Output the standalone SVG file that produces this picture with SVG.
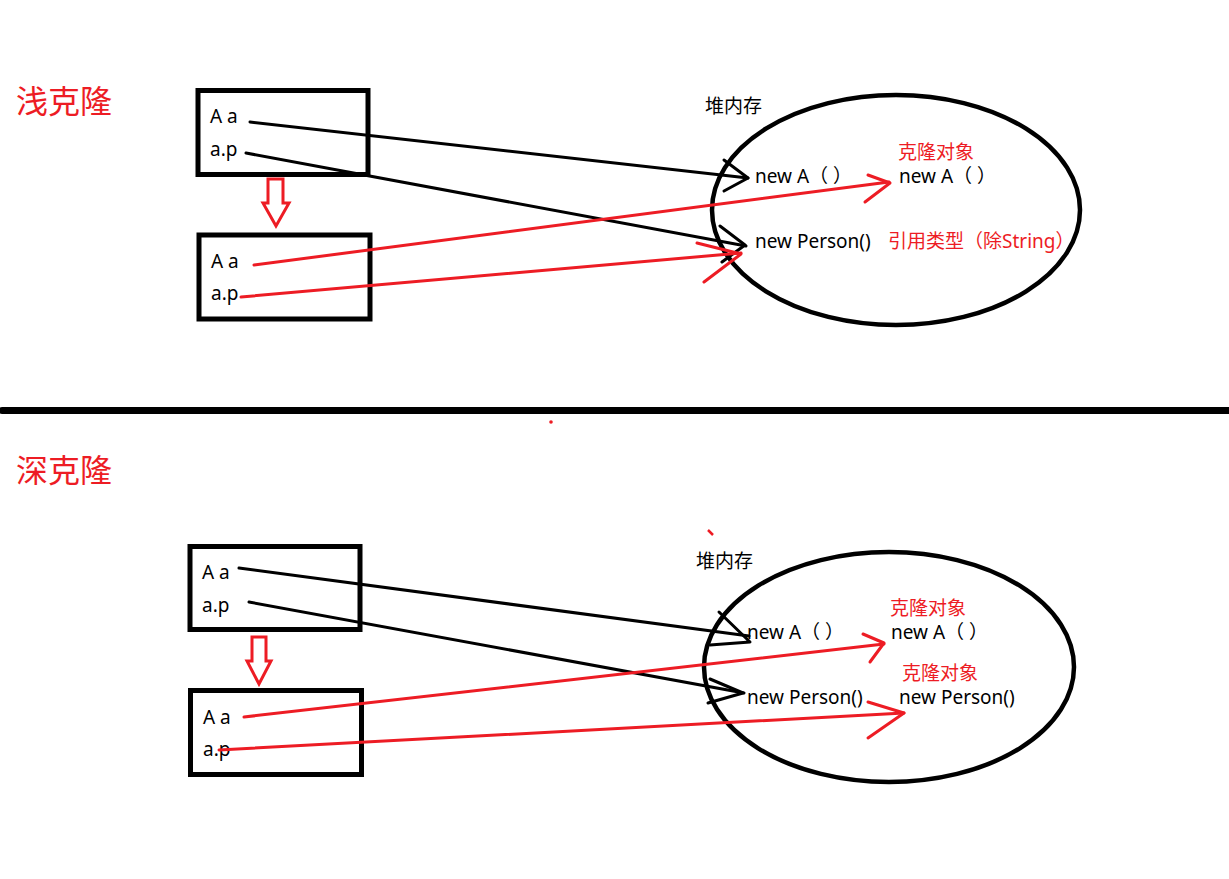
<svg xmlns="http://www.w3.org/2000/svg" width="1229" height="879" viewBox="0 0 1229 879">
<style>
.box{fill:none;stroke:#000;stroke-width:5}
.heap{fill:none;stroke:#000;stroke-width:4.5}
.t{font-family:"Noto Sans","Noto Sans CJK SC",sans-serif;font-size:19px;fill:#000}
.r{fill:#ED1C24}
.title{font-family:"Noto Sans CJK SC",sans-serif;font-size:32px;fill:#ED1C24}
.bl{fill:none;stroke:#000;stroke-width:3;stroke-linecap:round;stroke-linejoin:round}
.rl{fill:none;stroke:#ED1C24;stroke-width:3;stroke-linecap:round;stroke-linejoin:round}
.da{fill:#fff;stroke:#ED1C24;stroke-width:3;stroke-linejoin:miter}
</style>
<rect width="1229" height="879" fill="#fff"/>

<text class="title" x="16" y="113">浅克隆</text>
<text class="title" x="16" y="482">深克隆</text>

<line x1="2" y1="410.5" x2="1229" y2="410.5" stroke="#000" stroke-width="7" stroke-linecap="round"/>
<circle cx="551" cy="422" r="1.8" fill="#ED1C24"/>
<line x1="708" y1="530" x2="713" y2="535" stroke="#ED1C24" stroke-width="2.5"/>

<!-- top section -->
<g id="top-box1">
<rect class="box" x="198" y="90.5" width="170" height="84"/>
<text class="t" x="210" y="123">A a</text>
<text class="t" x="210" y="156">a.p</text>
</g>
<g id="top-copy-arrow">
<path class="da" d="M268,179 H283 V203 H289 L276,226 L263,203 H268 Z"/>
</g>
<g id="top-box2">
<rect class="box" x="199" y="235" width="171" height="84"/>
<text class="t" x="211" y="268">A a</text>
<text class="t" x="211" y="300">a.p</text>
</g>
<g id="top-heap">
<ellipse class="heap" cx="896" cy="210" rx="184" ry="115"/>
<text class="t" x="705" y="113">堆内存</text>
<text class="t" x="755" y="183">new A（ ）</text>
<text class="t r" x="898" y="159">克隆对象</text>
<text class="t" x="899" y="183">new A（ ）</text>
<text class="t" x="755" y="248">new Person()</text>
<text class="t r" x="888" y="248">引用类型（除String）</text>
</g>

<!-- bottom section -->
<g id="bottom-box1">
<rect class="box" x="190" y="546.5" width="170" height="83"/>
<text class="t" x="202" y="579">A a</text>
<text class="t" x="202" y="612">a.p</text>
</g>
<g id="bottom-copy-arrow">
<path class="da" d="M252,637 H266 V661 H271 L259,684 L247,661 H252 Z"/>
</g>
<g id="bottom-box2">
<rect class="box" x="190.5" y="690.5" width="171" height="84"/>
<text class="t" x="203" y="724">A a</text>
<text class="t" x="203" y="756">a.p</text>
</g>
<g id="bottom-heap">
<ellipse class="heap" cx="889" cy="667" rx="185" ry="115"/>
<text class="t" x="696" y="568">堆内存</text>
<text class="t" x="747" y="639">new A（ ）</text>
<text class="t r" x="890" y="615">克隆对象</text>
<text class="t" x="891" y="639">new A（ ）</text>
<text class="t r" x="902" y="680">克隆对象</text>
<text class="t" x="747" y="704">new Person()</text>
<text class="t" x="899" y="704">new Person()</text>
</g>

<g id="connectors">
<!-- top black -->
<path class="bl" d="M250,122 L748,178"/>
<path class="bl" d="M724,160 L748,178 L724,191"/>
<path class="bl" d="M246,153 L746,246"/>
<path class="bl" d="M720,226 L745,245 L722,262"/>
<!-- top red -->
<path class="rl" d="M254,265 L889,182"/>
<path class="rl" d="M868,175 L890,183 L865,202"/>
<path class="rl" d="M241,297 L741,253"/>
<path class="rl" d="M697,243 L741,254 L704,282"/>
<!-- bottom black -->
<path class="bl" d="M239,568 L749,636"/>
<path class="bl" d="M719,612 L750,642 L710,645"/>
<path class="bl" d="M249,602 L744,693"/>
<path class="bl" d="M710,679 L743,693 L708,703"/>
<!-- bottom red -->
<path class="rl" d="M244,717 L884,644"/>
<path class="rl" d="M863,634 L884,643 L870,662"/>
<path class="rl" d="M219,750 L904,713"/>
<path class="rl" d="M868,702 L904,713 L868,738"/>
</g>
</svg>
